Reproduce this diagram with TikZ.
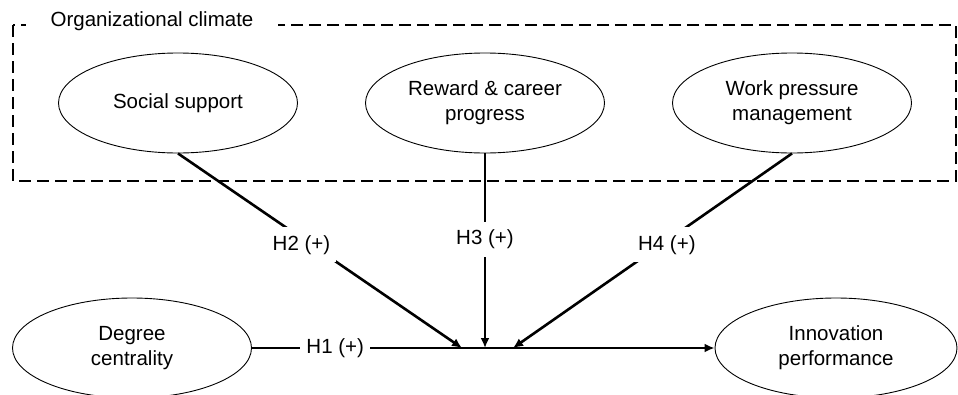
\documentclass[tikz,border=0pt]{standalone}
\usepackage{fontspec}
\setmainfont{Liberation Sans}
\usetikzlibrary{shapes.geometric,arrows.meta}
\begin{document}
\begin{tikzpicture}[x=1pt,y=-1pt,
  font=\fontsize{20.5}{25}\selectfont,
  construct/.style={draw,line width=0.9pt,ellipse,minimum width=239pt,minimum height=100pt,inner sep=0pt,align=center},
  conn/.style={line width=2.6pt},
  arr/.style={conn,-{Latex[length=10pt,width=9pt]}},
  hlabel/.style={fill=white,inner xsep=6pt,inner ysep=8pt}]
\useasboundingbox (0,0) rectangle (958,394);
\fill[white] (0,0) rectangle (958,394);
% dashed box
\draw[line width=1.5pt,dash pattern=on 12pt off 6pt] (13,25) rectangle (956,181);
\node[fill=white,inner xsep=25pt,inner ysep=2pt] (oc) at (152,21) {Organizational climate};
% constructs
\node[construct] (ss) at (178,103) {Social support};
\node[construct] (rc) at (485,103) {Reward \& career\\progress};
\node[construct] (wp) at (792,103) {Work pressure\\management};
\node[construct] (dc) at (132,348) {Degree\\centrality};
\node[construct,minimum width=242pt] (ip) at (836,348) {Innovation\\performance};
% junction points
\coordinate (j2) at (462,348);
\coordinate (j3) at (485,348);
\coordinate (j4) at (513,348);
% connectors
\draw[arr] (dc) -- node[hlabel,pos=0.18]{H1 (+)} (ip);
\draw[arr] (ss.south) -- node[hlabel,pos=0.47,xshift=-10pt]{H2 (+)} (j2);
\draw[arr] (rc.south) -- node[hlabel,pos=0.44]{H3 (+)} (j3);
\draw[arr] (wp.south) -- node[hlabel,pos=0.47,xshift=6pt]{H4 (+)} (j4);
\end{tikzpicture}
\end{document}
